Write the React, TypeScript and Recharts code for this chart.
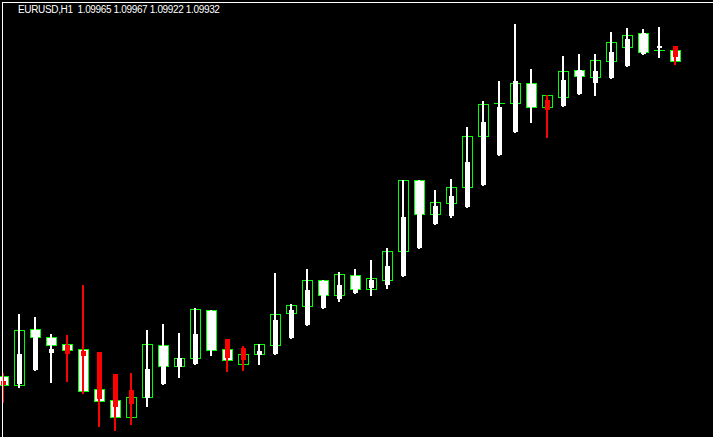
import { ComposedChart, Bar, XAxis, YAxis } from "recharts";

// EURUSD H1, price candles (green boxes) with Heiken Ashi overlay (white / red)
const MAIN_OPEN = [
  1.08987, 1.0896, 1.09128, 1.09104, 1.09083, 1.09068, 1.08948, 1.08915, 1.08864,
  1.08924, 1.0908, 1.09017, 1.09041, 1.09185, 1.09068, 1.09023, 1.09053, 1.0908,
  1.09176, 1.09197, 1.09275, 1.0923, 1.0929, 1.09248, 1.09275, 1.09362, 1.09575,
  1.09473, 1.09506, 1.09554, 1.09707, 1.09806, 1.09806, 1.09866, 1.09794, 1.09824,
  1.09905, 1.09884, 1.09932, 1.09974, 1.10016, 1.09965, 1.09965,
];
const MAIN_CLOSE = [
  1.0896, 1.09125, 1.09104, 1.0908, 1.09065, 1.08942, 1.08912, 1.08864, 1.08924,
  1.09083, 1.09017, 1.09041, 1.09188, 1.09065, 1.09035, 1.09053, 1.09083, 1.09173,
  1.092, 1.09275, 1.0923, 1.09293, 1.09248, 1.09281, 1.09362, 1.09575, 1.09473,
  1.09509, 1.09554, 1.09707, 1.09803, 1.09806, 1.09866, 1.09794, 1.0983, 1.09902,
  1.09887, 1.09935, 1.09989, 1.1001, 1.09959, 1.09965, 1.09932,
];
const HA_OPEN = [
  1.08972, 1.08966, 1.09008, 1.09059, 1.0908, 1.09062, 1.09059, 1.08993, 1.08945,
  1.08924, 1.08966, 1.09017, 1.09026, 1.09068, 1.09098, 1.09071, 1.09053, 1.09056,
  1.09104, 1.09143, 1.09194, 1.09221, 1.09239, 1.09254, 1.09263, 1.0929, 1.09374,
  1.09446, 1.0947, 1.09497, 1.09563, 1.09653, 1.09722, 1.09797, 1.09815, 1.098,
  1.09836, 1.09869, 1.09884, 1.0992, 1.09956, 1.09974, 1.09977,
];
const HA_CLOSE = [
  1.08963, 1.09053, 1.09104, 1.09068, 1.09056, 1.0905, 1.08921, 1.08897, 1.08906,
  1.09008, 1.0902, 1.09041, 1.09113, 1.09182, 1.09044, 1.09038, 1.09062, 1.09155,
  1.09185, 1.09245, 1.09272, 1.0926, 1.09287, 1.09275, 1.09317, 1.09464, 1.09572,
  1.09497, 1.09527, 1.09629, 1.09749, 1.09794, 1.09872, 1.09863, 1.09788, 1.09875,
  1.09905, 1.09902, 1.09959, 1.09998, 1.10016, 1.09977, 1.09947,
];
const HA_HIGH = [
  1.08996, 1.09173, 1.09164, 1.09113, 1.0911, 1.0926, 1.09059, 1.08993, 1.08996,
  1.09125, 1.09143, 1.09116, 1.09191, 1.09185, 1.09098, 1.09077, 1.09083, 1.09296,
  1.09203, 1.09308, 1.09275, 1.09299, 1.09308, 1.09335, 1.09371, 1.09575, 1.09575,
  1.09545, 1.09578, 1.09734, 1.09812, 1.09872, 1.10043, 1.09908, 1.0983, 1.09947,
  1.09953, 1.09953, 1.10019, 1.10031, 1.10028, 1.10034, 1.09977,
];
const HA_LOW = [
  1.08909, 1.08954, 1.09005, 1.08969, 1.08972, 1.08936, 1.08837, 1.08825, 1.08843,
  1.08897, 1.08963, 1.08984, 1.09023, 1.0905, 1.09002, 1.09005, 1.09023, 1.09053,
  1.09101, 1.0914, 1.09191, 1.09212, 1.09236, 1.0923, 1.09251, 1.09287, 1.09371,
  1.09443, 1.09464, 1.09494, 1.0956, 1.0965, 1.09719, 1.09749, 1.09704, 1.09797,
  1.09833, 1.0983, 1.09881, 1.09917, 1.09953, 1.09944, 1.09922,
];

const PRICE_DOMAIN: [number, number] = [1.08804, 1.10115];
const TITLE = "EURUSD,H1  1.09965 1.09967 1.09922 1.09932";

const GREEN = "#00ff00";
const WHITE = "#ffffff";
const RED = "#ff0000";

const data = MAIN_OPEN.map((open, i) => ({
  open,
  close: MAIN_CLOSE[i],
  haOpen: HA_OPEN[i],
  haClose: HA_CLOSE[i],
  haHigh: HA_HIGH[i],
  haLow: HA_LOW[i],
}));

function CandleShape(props: any) {
  const { x, y, width, height, payload } = props;
  if (payload == null || x == null) return null;
  const top = Math.min(y, y + height);
  const h = Math.abs(height);
  const hi = payload.haHigh;
  const lo = payload.haLow;
  const ppu = hi > lo ? h / (hi - lo) : 0;
  const toY = (v: number) => Math.round(top + (hi - v) * ppu);
  const cx = Math.round(x + width / 2);

  // price candle: green outline, white fill when bearish
  const bTop = toY(Math.max(payload.open, payload.close));
  const bBot = toY(Math.min(payload.open, payload.close));
  const bearish = payload.close < payload.open;
  const box =
    bBot - bTop < 1 ? (
      <line x1={cx - 5} x2={cx + 6} y1={bTop + 0.5} y2={bTop + 0.5} stroke={GREEN} strokeWidth={1} />
    ) : (
      <rect
        x={cx - 4.5}
        y={bTop + 0.5}
        width={10}
        height={bBot - bTop}
        fill={bearish ? WHITE : "#000000"}
        stroke={GREEN}
        strokeWidth={1}
        shapeRendering="crispEdges"
      />
    );

  // heiken ashi
  const haColor = payload.haClose >= payload.haOpen ? WHITE : RED;
  const wTop = toY(hi);
  const wBot = toY(lo);
  const hTop = toY(Math.max(payload.haOpen, payload.haClose));
  const hBot = toY(Math.min(payload.haOpen, payload.haClose));

  return (
    <g>
      {box}
      <rect x={cx - 1} y={wTop} width={2} height={Math.max(1, wBot - wTop + 1)} fill={haColor} shapeRendering="crispEdges" />
      <rect x={cx - 2} y={hTop} width={5} height={Math.max(1, hBot - hTop + 1)} fill={haColor} shapeRendering="crispEdges" />
    </g>
  );
}

export default function App() {
  return (
    <div style={{ position: "relative", width: 713, height: 437, background: "#000", overflow: "hidden" }}>
      <style>{"body{margin:0;background:#000}"}</style>
      <ComposedChart
        width={713}
        height={437}
        data={data}
        margin={{ top: 0, right: 30, bottom: 0, left: -5 }}
        barCategoryGap={0}
        style={{ position: "absolute", left: 0, top: 0 }}
      >
        <XAxis hide />
        <YAxis hide domain={PRICE_DOMAIN} allowDataOverflow />
        <Bar
          dataKey={(d: any) => [d.haLow, d.haHigh]}
          shape={CandleShape}
          isAnimationActive={false}
        />
      </ComposedChart>
      <div
        style={{
          position: "absolute",
          left: 2,
          top: 2,
          width: 711,
          height: 435,
          borderLeft: `1px solid ${WHITE}`,
          borderTop: `1px solid ${WHITE}`,
          pointerEvents: "none",
        }}
      />
      <div
        style={{
          position: "absolute",
          left: 18,
          top: 5,
          color: WHITE,
          fontFamily: "'Liberation Sans', Arial, sans-serif",
          fontSize: 10,
          lineHeight: "10px",
          letterSpacing: -0.35,
          whiteSpace: "pre",
        }}
      >
        {TITLE}
      </div>
    </div>
  );
}
